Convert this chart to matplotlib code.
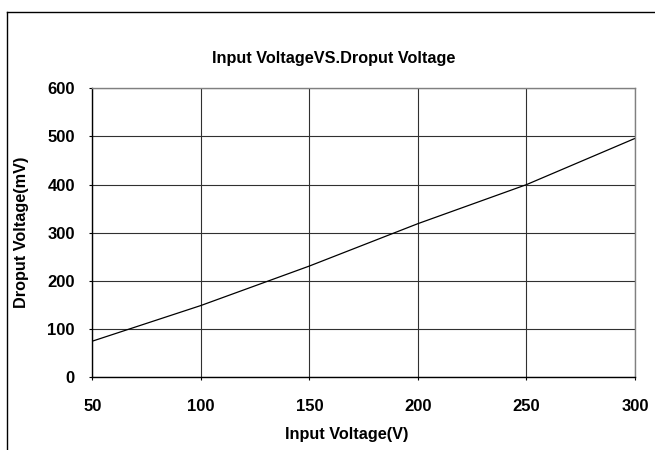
import matplotlib
matplotlib.use('Agg')
import matplotlib.pyplot as plt
from matplotlib.lines import Line2D

# 数据
input_v = [50, 100, 150, 200, 250, 300]
dropout_mv = [75, 149, 231, 319, 400, 496]
x_ticks = [50, 100, 150, 200, 250, 300]
y_ticks = [0, 100, 200, 300, 400, 500, 600]

plt.rcParams['font.family'] = ['Liberation Sans', 'DejaVu Sans']
plt.rcParams['font.weight'] = 'bold'

W, H = 655, 450
fig = plt.figure(figsize=(W / 100, H / 100), dpi=100)
fig.patch.set_facecolor('white')

# 外框（图表区，右侧和下方被裁掉）
fig.add_artist(Line2D([7 / W, 7 / W], [0, 1 - 12 / H], transform=fig.transFigure, color='black', lw=1.0))
fig.add_artist(Line2D([7 / W, 1], [1 - 12 / H, 1 - 12 / H], transform=fig.transFigure, color='black', lw=1.0))

left, right, top, bottom = 92.3, 635, 88.3, 377.3
ax = fig.add_axes([left / W, 1 - bottom / H, (right - left) / W, (bottom - top) / H])

ax.plot(input_v, dropout_mv, color='black', lw=0.9)

ax.set_xlim(50, 300)
ax.set_ylim(0, 600)
ax.set_xticks(x_ticks)
ax.set_yticks(y_ticks)
ax.grid(True, color='#303030', lw=0.8)
ax.set_axisbelow(True)

ax.spines['left'].set_color('black')
ax.spines['bottom'].set_color('black')
ax.spines['top'].set_color('#808080')
ax.spines['right'].set_color('#808080')
for s in ax.spines.values():
    s.set_linewidth(1.0)

ax.tick_params(axis='y', direction='out', length=2, pad=10.5, labelsize=12)
ax.tick_params(axis='x', direction='out', length=2, pad=13.5, labelsize=12)
for lab in ax.get_xticklabels() + ax.get_yticklabels():
    lab.set_fontweight('bold')

fig.text(334 / W, 1 - 58 / H, 'Input VoltageVS.Droput Voltage', ha='center', va='center',
         fontsize=11.7, fontweight='bold')
fig.text(347 / W, 1 - 435 / H, 'Input Voltage(V)', ha='center', va='center',
         fontsize=11.7, fontweight='bold')
fig.text(22 / W, 1 - 232 / H, 'Droput Voltage(mV)', ha='center', va='center', rotation=90,
         fontsize=11.7, fontweight='bold')

fig.savefig('out.png', dpi=100)
